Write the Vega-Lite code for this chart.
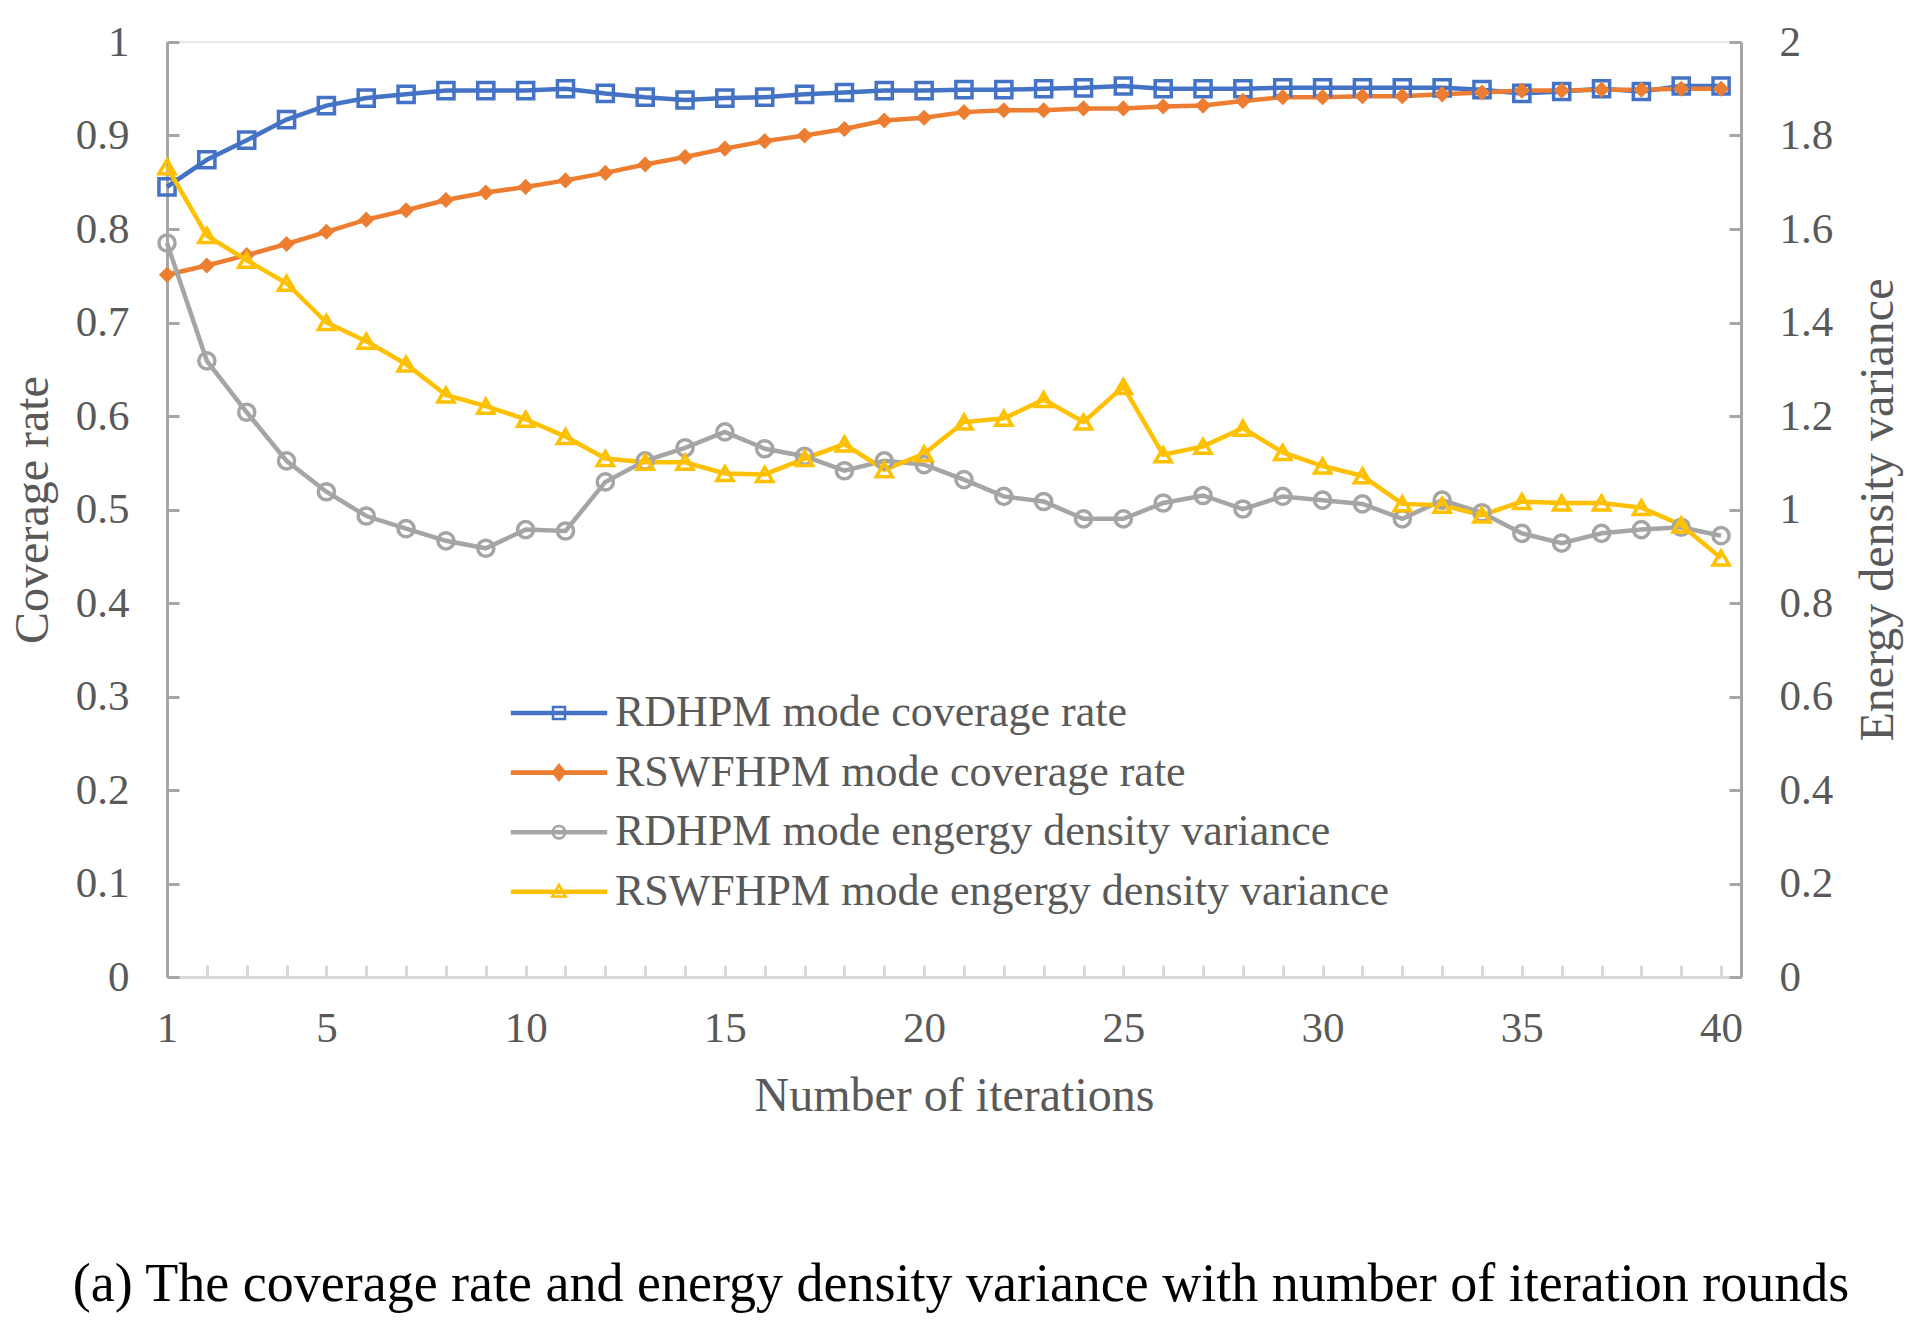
{
  "$schema": "https://vega.github.io/schema/vega-lite/v6.json",
  "width": 1574,
  "height": 935,
  "autosize": {"type": "none"},
  "padding": {"left": 167, "top": 42, "right": 179, "bottom": 355},
  "background": "white",
  "config": {
    "view": {"stroke": "#E8E8E8", "strokeWidth": 2},
    "font": "Liberation Serif",
    "axis": {
      "grid": false,
      "labelFont": "Liberation Serif",
      "titleFont": "Liberation Serif",
      "labelFontSize": 43,
      "titleFontSize": 48,
      "labelColor": "#595959",
      "titleColor": "#595959",
      "titleFontWeight": "normal",
      "tickSize": -12,
      "tickWidth": 3,
      "domainWidth": 3,
      "domainColor": "#A6A6A6",
      "tickColor": "#A6A6A6",
      "labelOverlap": false,
      "labelFlush": false
    },
    "legend": {
      "orient": "none",
      "legendX": 370,
      "legendY": 649,
      "padding": 0,
      "labelFont": "Liberation Serif",
      "labelFontSize": 44,
      "labelColor": "#595959",
      "labelLimit": 1000,
      "labelOffset": 34,
      "symbolSize": 900,
      "symbolStrokeWidth": 2.5,
      "symbolOpacity": 1,
      "symbolFillColor": "transparent",
      "rowPadding": 15.6
    }
  },
  "title": {
    "text": "(a) The coverage rate and energy density variance with number of iteration rounds",
    "orient": "bottom",
    "font": "Liberation Serif",
    "fontSize": 54,
    "fontWeight": "normal",
    "color": "#000000",
    "offset": 138,
    "dx": 7
  },
  "data": {
    "values": [
      {"it": 1, "rdhpm_cov": 0.845, "rswf_cov": 0.751, "rdhpm_var": 1.57, "rswf_var": 1.733},
      {"it": 2, "rdhpm_cov": 0.874, "rswf_cov": 0.761, "rdhpm_var": 1.318, "rswf_var": 1.586},
      {"it": 3, "rdhpm_cov": 0.895, "rswf_cov": 0.772, "rdhpm_var": 1.208, "rswf_var": 1.533},
      {"it": 4, "rdhpm_cov": 0.917, "rswf_cov": 0.784, "rdhpm_var": 1.104, "rswf_var": 1.484},
      {"it": 5, "rdhpm_cov": 0.932, "rswf_cov": 0.797, "rdhpm_var": 1.038, "rswf_var": 1.4},
      {"it": 6, "rdhpm_cov": 0.94, "rswf_cov": 0.81, "rdhpm_var": 0.986, "rswf_var": 1.36},
      {"it": 7, "rdhpm_cov": 0.944, "rswf_cov": 0.82, "rdhpm_var": 0.959, "rswf_var": 1.311},
      {"it": 8, "rdhpm_cov": 0.948, "rswf_cov": 0.831, "rdhpm_var": 0.933, "rswf_var": 1.245},
      {"it": 9, "rdhpm_cov": 0.948, "rswf_cov": 0.839, "rdhpm_var": 0.917, "rswf_var": 1.221},
      {"it": 10, "rdhpm_cov": 0.948, "rswf_cov": 0.845, "rdhpm_var": 0.957, "rswf_var": 1.193},
      {"it": 11, "rdhpm_cov": 0.95, "rswf_cov": 0.852, "rdhpm_var": 0.954, "rswf_var": 1.156},
      {"it": 12, "rdhpm_cov": 0.945, "rswf_cov": 0.86, "rdhpm_var": 1.059, "rswf_var": 1.109},
      {"it": 13, "rdhpm_cov": 0.941, "rswf_cov": 0.869, "rdhpm_var": 1.104, "rswf_var": 1.101},
      {"it": 14, "rdhpm_cov": 0.938, "rswf_cov": 0.877, "rdhpm_var": 1.132, "rswf_var": 1.101},
      {"it": 15, "rdhpm_cov": 0.94, "rswf_cov": 0.886, "rdhpm_var": 1.166, "rswf_var": 1.077},
      {"it": 16, "rdhpm_cov": 0.941, "rswf_cov": 0.894, "rdhpm_var": 1.13, "rswf_var": 1.075},
      {"it": 17, "rdhpm_cov": 0.944, "rswf_cov": 0.9, "rdhpm_var": 1.114, "rswf_var": 1.109},
      {"it": 18, "rdhpm_cov": 0.946, "rswf_cov": 0.907, "rdhpm_var": 1.083, "rswf_var": 1.14},
      {"it": 19, "rdhpm_cov": 0.948, "rswf_cov": 0.916, "rdhpm_var": 1.104, "rswf_var": 1.085},
      {"it": 20, "rdhpm_cov": 0.948, "rswf_cov": 0.919, "rdhpm_var": 1.096, "rswf_var": 1.119},
      {"it": 21, "rdhpm_cov": 0.949, "rswf_cov": 0.925, "rdhpm_var": 1.064, "rswf_var": 1.187},
      {"it": 22, "rdhpm_cov": 0.949, "rswf_cov": 0.927, "rdhpm_var": 1.028, "rswf_var": 1.195},
      {"it": 23, "rdhpm_cov": 0.95, "rswf_cov": 0.927, "rdhpm_var": 1.017, "rswf_var": 1.235},
      {"it": 24, "rdhpm_cov": 0.951, "rswf_cov": 0.929, "rdhpm_var": 0.98, "rswf_var": 1.187},
      {"it": 25, "rdhpm_cov": 0.953, "rswf_cov": 0.929, "rdhpm_var": 0.98, "rswf_var": 1.263},
      {"it": 26, "rdhpm_cov": 0.95, "rswf_cov": 0.931, "rdhpm_var": 1.014, "rswf_var": 1.117},
      {"it": 27, "rdhpm_cov": 0.95, "rswf_cov": 0.932, "rdhpm_var": 1.03, "rswf_var": 1.135},
      {"it": 28, "rdhpm_cov": 0.95, "rswf_cov": 0.937, "rdhpm_var": 1.001, "rswf_var": 1.174},
      {"it": 29, "rdhpm_cov": 0.951, "rswf_cov": 0.941, "rdhpm_var": 1.028, "rswf_var": 1.122},
      {"it": 30, "rdhpm_cov": 0.951, "rswf_cov": 0.941, "rdhpm_var": 1.02, "rswf_var": 1.093},
      {"it": 31, "rdhpm_cov": 0.951, "rswf_cov": 0.942, "rdhpm_var": 1.012, "rswf_var": 1.072},
      {"it": 32, "rdhpm_cov": 0.951, "rswf_cov": 0.942, "rdhpm_var": 0.98, "rswf_var": 1.012},
      {"it": 33, "rdhpm_cov": 0.951, "rswf_cov": 0.944, "rdhpm_var": 1.02, "rswf_var": 1.009},
      {"it": 34, "rdhpm_cov": 0.949, "rswf_cov": 0.946, "rdhpm_var": 0.993, "rswf_var": 0.988},
      {"it": 35, "rdhpm_cov": 0.945, "rswf_cov": 0.948, "rdhpm_var": 0.949, "rswf_var": 1.017},
      {"it": 36, "rdhpm_cov": 0.947, "rswf_cov": 0.948, "rdhpm_var": 0.928, "rswf_var": 1.014},
      {"it": 37, "rdhpm_cov": 0.95, "rswf_cov": 0.949, "rdhpm_var": 0.949, "rswf_var": 1.014},
      {"it": 38, "rdhpm_cov": 0.947, "rswf_cov": 0.949, "rdhpm_var": 0.957, "rswf_var": 1.004},
      {"it": 39, "rdhpm_cov": 0.953, "rswf_cov": 0.95, "rdhpm_var": 0.962, "rswf_var": 0.967},
      {"it": 40, "rdhpm_cov": 0.953, "rswf_cov": 0.95, "rdhpm_var": 0.944, "rswf_var": 0.896}
    ]
  },
  "transform": [
    {"fold": ["rdhpm_cov", "rswf_cov", "rdhpm_var", "rswf_var"], "as": ["series", "v"]}
  ],
  "encoding": {
    "x": {
      "field": "it",
      "type": "quantitative",
      "title": "Number of iterations",
      "scale": {"domain": [1, 40.5], "nice": false, "zero": false},
      "axis": {
        "values": [1,2,3,4,5,6,7,8,9,10,11,12,13,14,15,16,17,18,19,20,21,22,23,24,25,26,27,28,29,30,31,32,33,34,35,36,37,38,39,40],
        "labelExpr": "datum.value == 1 || datum.value % 5 == 0 ? datum.label : ''",
        "format": "d",
        "labelPadding": 42,
        "titlePadding": 22,
        "domainColor": "#D9D9D9",
        "tickColor": "#D9D9D9"
      }
    },
    "color": {
      "field": "series",
      "type": "nominal",
      "scale": {
        "domain": ["rdhpm_cov", "rswf_cov", "rdhpm_var", "rswf_var"],
        "range": ["#4472C4", "#ED7D31", "#A5A5A5", "#FFC000"]
      },
      "legend": {
        "title": null,
        "labelExpr": "datum.value == 'rdhpm_cov' ? 'RDHPM mode coverage rate' : datum.value == 'rswf_cov' ? 'RSWFHPM mode coverage rate' : datum.value == 'rdhpm_var' ? 'RDHPM mode engergy density variance' : 'RSWFHPM mode engergy density variance'"
      }
    }
  },
  "layer": [
    {
      "transform": [{"filter": {"field": "series", "oneOf": ["rdhpm_cov", "rswf_cov"]}}],
      "encoding": {
        "y": {
          "field": "v",
          "type": "quantitative",
          "title": "Coverage rate",
          "scale": {"domain": [0, 1], "nice": false},
          "axis": {
            "orient": "left",
            "values": [0, 0.1, 0.2, 0.3, 0.4, 0.5, 0.6, 0.7, 0.8, 0.9, 1],
            "format": "~g",
            "labelPadding": 50,
            "titlePadding": 18
          }
        }
      },
      "layer": [
        {"mark": {"type": "line", "strokeWidth": 4.5}},
        {
          "transform": [{"filter": {"field": "series", "equal": "rdhpm_cov"}}],
          "mark": {"type": "point", "shape": "square", "filled": false, "size": 260, "strokeWidth": 3.5, "opacity": 1}
        },
        {
          "transform": [{"filter": {"field": "series", "equal": "rswf_cov"}}],
          "mark": {"type": "point", "shape": "diamond", "filled": true, "size": 260, "opacity": 1},
          "encoding": {"color": {"value": "#ED7D31"}}
        }
      ]
    },
    {
      "transform": [{"filter": {"field": "series", "oneOf": ["rdhpm_var", "rswf_var"]}}],
      "encoding": {
        "y": {
          "field": "v",
          "type": "quantitative",
          "title": "Energy density variance",
          "scale": {"domain": [0, 2], "nice": false},
          "axis": {
            "orient": "right",
            "values": [0, 0.2, 0.4, 0.6, 0.8, 1, 1.2, 1.4, 1.6, 1.8, 2],
            "format": "~g",
            "labelPadding": 50,
            "titlePadding": 70,
            "titleAngle": -90
          }
        }
      },
      "layer": [
        {"mark": {"type": "line", "strokeWidth": 4.5}},
        {
          "transform": [{"filter": {"field": "series", "equal": "rdhpm_var"}}],
          "mark": {"type": "point", "shape": "circle", "filled": false, "size": 260, "strokeWidth": 3.5, "opacity": 1}
        },
        {
          "transform": [{"filter": {"field": "series", "equal": "rswf_var"}}],
          "mark": {"type": "point", "shape": "triangle-up", "filled": false, "size": 260, "strokeWidth": 3.5, "opacity": 1}
        }
      ]
    },
    {
      "mark": {"type": "point", "filled": false, "opacity": 0},
      "encoding": {
        "shape": {
          "field": "series",
          "type": "nominal",
          "scale": {
            "domain": ["rdhpm_cov", "rswf_cov", "rdhpm_var", "rswf_var"],
            "range": [
              "M-3.13,-0.07H3.13V0.07H-3.13ZM-0.4,-0.4H0.4V0.4H-0.4Z",
              "M-3.13,-0.07H3.13V0.07H-3.13ZM0,-0.5L0.4,0L0,0.5L-0.4,0ZM0,-0.35L0.28,0L0,0.35L-0.28,0ZM0,-0.2L0.16,0L0,0.2L-0.16,0ZM0,-0.06L0.05,0L0,0.06L-0.05,0Z",
              "M-3.13,-0.07H3.13V0.07H-3.13ZM0.42,0A0.42,0.42,0,1,1,-0.42,0A0.42,0.42,0,1,1,0.42,0",
              "M-3.13,-0.07H3.13V0.07H-3.13ZM0,-0.47L0.45,0.32H-0.45Z"
            ]
          },
          "legend": {
            "title": null,
            "labelExpr": "datum.value == 'rdhpm_cov' ? 'RDHPM mode coverage rate' : datum.value == 'rswf_cov' ? 'RSWFHPM mode coverage rate' : datum.value == 'rdhpm_var' ? 'RDHPM mode engergy density variance' : 'RSWFHPM mode engergy density variance'"
          }
        }
      }
    }
  ],
  "resolve": {"scale": {"y": "independent"}}
}
